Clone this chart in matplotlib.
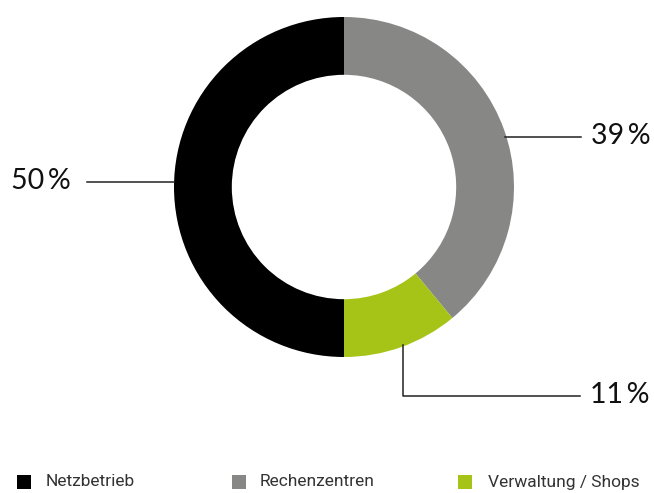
import matplotlib
matplotlib.use("Agg")
import matplotlib.pyplot as plt
from matplotlib.patches import Rectangle
import numpy as np

categories = ["Netzbetrieb", "Rechenzentren", "Verwaltung / Shops"]
values = [50, 39, 11]
labels = ["50\u2009%", "39\u2009%", "11\u2009%"]
colors = ["#000000", "#878786", "#a5c417"]

W, H = 654, 493
fig = plt.figure(figsize=(W / 100, H / 100), dpi=100)
ax = fig.add_axes([0, 0, 1, 1])

cx, cy, R = 344, 187, 170
order = [1, 2, 0]  # clockwise from top: Rechenzentren, Verwaltung, Netzbetrieb
# y axis is inverted (pixel coords), so counterclock in data = clockwise on screen
ax.pie([values[i] for i in order], colors=[colors[i] for i in order],
       startangle=270, counterclock=True, center=(cx, cy), radius=R,
       wedgeprops=dict(width=R * 0.34, linewidth=0), frame=True)
ax.set_xlim(0, W)
ax.set_ylim(H, 0)
ax.set_aspect("equal")
ax.axis("off")

lab_font = dict(family=["Lato", "DejaVu Sans"], fontsize=20.5, color="#111111")
lw = 1.1
# 50 %
ax.plot([87, 174], [182, 182], color="#222222", lw=lw)
ax.text(11, 181, labels[0], ha="left", va="center", **lab_font)
# 39 %
ax.plot([505, 581], [137, 137], color="#222222", lw=lw)
ax.text(651, 136, labels[1], ha="right", va="center", **lab_font)
# 11 %
ax.plot([403, 403, 580], [345, 396, 396], color="#222222", lw=lw)
ax.text(649, 395, labels[2], ha="right", va="center", **lab_font)

# legend
leg_x_sq = [17, 232, 458]
leg_x_tx = [46, 260, 488]
for i, name in enumerate(categories):
    ax.add_patch(Rectangle((leg_x_sq[i], 475), 14, 14, color=colors[i], lw=0))
    ax.text(leg_x_tx[i], 482, name, ha="left", va="center",
            family=["Roboto", "DejaVu Sans"], fontweight="normal",
            fontsize=12.5, color="#333333")

fig.savefig("out.png", dpi=100)
